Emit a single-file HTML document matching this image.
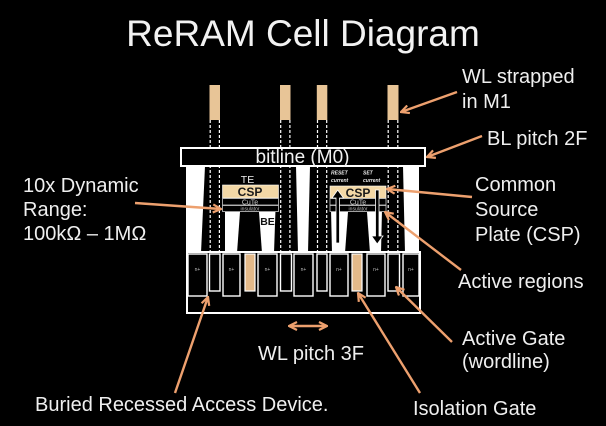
<!DOCTYPE html>
<html>
<head>
<meta charset="utf-8">
<style>
  html,body{margin:0;padding:0;background:#000;}
  svg{display:block;}
  text{font-family:"Liberation Sans", Arial, sans-serif;}
</style>
</head>
<body>
<svg width="606" height="426" viewBox="0 0 606 426" xmlns="http://www.w3.org/2000/svg">
  <defs>
    <marker id="ah" viewBox="0 0 10 10" refX="9" refY="5" markerWidth="10" markerHeight="10" markerUnits="userSpaceOnUse" orient="auto-start-reverse">
      <path d="M1,1 L9,5 L1,9" fill="none" stroke="#eda06e" stroke-width="2.2"/>
    </marker>
  </defs>
  <rect width="606" height="426" fill="#000"/>

  <!-- Title -->
  <text x="303" y="46" font-size="37" text-anchor="middle" fill="#f2f2f2">ReRAM Cell Diagram</text>

  <!-- WL strap bars (M1) -->
  <rect x="209.5" y="85" width="10.5" height="35" fill="#e8c597"/>
  <rect x="280" y="85" width="10.5" height="35" fill="#e8c597"/>
  <rect x="316.8" y="85" width="10.5" height="35" fill="#e8c597"/>
  <rect x="387.5" y="85" width="11" height="35" fill="#e8c597"/>

  <!-- Upper white structure -->
  <rect x="186" y="166" width="233" height="87" fill="#ffffff"/>
  <!-- pillars -->
  <polygon points="205,166 225,166 225,253 201,253" fill="#000"/>
  <polygon points="277,166 296,166 298,253 274,253" fill="#000"/>
  <polygon points="310,166 330,166 332,253 308,253" fill="#000"/>
  <polygon points="383,166 403,166 405,253 381,253" fill="#000"/>
  <!-- cell blocks -->
  <rect x="222" y="166" width="57" height="46" fill="#000"/>
  <rect x="327" y="166" width="60" height="46" fill="#000"/>
  <!-- BE trapezoids -->
  <polygon points="240,212 259,212 262,253 237,253" fill="#000"/>
  <polygon points="348,212 367,212 370,253 345,253" fill="#000"/>

  <!-- dashed via lines -->
  <g stroke="#ffffff" stroke-width="1.2" stroke-dasharray="3 2" fill="none">
    <line x1="210.2" y1="120" x2="210.2" y2="252"/>
    <line x1="219.4" y1="120" x2="219.4" y2="252"/>
    <line x1="280.7" y1="120" x2="280.7" y2="252"/>
    <line x1="289.9" y1="120" x2="289.9" y2="252"/>
    <line x1="317.5" y1="120" x2="317.5" y2="252"/>
    <line x1="326.7" y1="120" x2="326.7" y2="252"/>
    <line x1="388.2" y1="120" x2="388.2" y2="252"/>
    <line x1="397.8" y1="120" x2="397.8" y2="252"/>
  </g>

  <!-- bitline -->
  <rect x="181" y="148" width="244" height="18" fill="#000" stroke="#ffffff" stroke-width="2"/>
  <text x="302.5" y="163" font-size="19" text-anchor="middle" fill="#f2f2f2">bitline (M0)</text>

  <!-- Left cell details -->
  <text x="247.5" y="183" font-size="10.5" text-anchor="middle" fill="#eeeeee">TE</text>
  <rect x="222.5" y="185" width="56" height="13" fill="#f3d8a6" stroke="#ffffff" stroke-width="0.6"/>
  <text x="250" y="196" font-size="12" font-weight="bold" text-anchor="middle" fill="#1a1a1a">CSP</text>
  <rect x="222.5" y="198.5" width="56" height="6.5" fill="#000" stroke="#c8c8c8" stroke-width="0.8"/>
  <text x="250" y="204.3" font-size="7" text-anchor="middle" fill="#cfcfcf">CuTe</text>
  <rect x="222.5" y="205.5" width="56" height="6" fill="#000" stroke="#c8c8c8" stroke-width="0.8"/>
  <text x="250" y="210.6" font-size="5" text-anchor="middle" fill="#bdbdbd">insulator</text>
  <text x="267.5" y="225" font-size="10.5" font-weight="bold" text-anchor="middle" fill="#111">BE</text>

  <!-- Right cell details -->
  <text x="331" y="174.5" font-size="5" font-style="italic" font-weight="bold" fill="#e8e8e8">RESET</text>
  <text x="331" y="182" font-size="5" font-style="italic" font-weight="bold" fill="#e8e8e8">current</text>
  <text x="363" y="174.5" font-size="5" font-style="italic" font-weight="bold" fill="#e8e8e8">SET</text>
  <text x="363" y="182" font-size="5" font-style="italic" font-weight="bold" fill="#e8e8e8">current</text>
  <rect x="330" y="186" width="56" height="12.5" fill="#f3d8a6" stroke="#ffffff" stroke-width="0.6"/>
  <text x="358" y="197" font-size="12" font-weight="bold" text-anchor="middle" fill="#1a1a1a">CSP</text>
  <rect x="330" y="198.5" width="56" height="6.5" fill="#000" stroke="#c8c8c8" stroke-width="0.8"/>
  <text x="358" y="204.3" font-size="7" text-anchor="middle" fill="#cfcfcf">CuTe</text>
  <rect x="330" y="205.5" width="56" height="6" fill="#000" stroke="#c8c8c8" stroke-width="0.8"/>
  <text x="358" y="210.6" font-size="5" text-anchor="middle" fill="#bdbdbd">insulator</text>
  <!-- RESET up arrow -->
  <polygon points="336,243 339.5,243 339.5,198 343.5,198 337.7,190 332,198 336,198" fill="#000" stroke="#ffffff" stroke-width="0.8"/>
  <!-- SET down arrow -->
  <polygon points="375.5,190 379,190 379,236 383,236 377.2,244 371.5,236 375.5,236" fill="#000" stroke="#ffffff" stroke-width="0.8"/>

  <!-- Bottom device box -->
  <rect x="187" y="252" width="233" height="61" fill="#000" stroke="#ffffff" stroke-width="2"/>
  <g fill="#000" stroke="#ffffff" stroke-width="1.4">
    <rect x="188" y="254" width="19" height="42"/>
    <rect x="223" y="254" width="17" height="42"/>
    <rect x="258" y="254" width="19" height="42"/>
    <rect x="294" y="254" width="19" height="42"/>
    <rect x="330" y="254" width="18" height="42"/>
    <rect x="367" y="254" width="18" height="42"/>
    <rect x="403" y="254" width="16" height="42"/>
    <rect x="209.5" y="254" width="10.5" height="37"/>
    <rect x="280.5" y="254" width="11" height="37"/>
    <rect x="317" y="254" width="10" height="37"/>
    <rect x="388" y="254" width="11.5" height="37"/>
  </g>
  <g fill="#e3b989" stroke="#ffffff" stroke-width="1.2">
    <rect x="245" y="254" width="10" height="37"/>
    <rect x="352" y="254" width="10" height="37"/>
  </g>
  <g font-size="5" fill="#bbbbbb" text-anchor="middle">
    <text x="197.5" y="271">n+</text>
    <text x="231.5" y="271">n+</text>
    <text x="267.5" y="271">n+</text>
    <text x="303.5" y="271">n+</text>
    <text x="339" y="271">n+</text>
    <text x="376" y="271">n+</text>
    <text x="411" y="271">n+</text>
  </g>

  <!-- Orange callout arrows -->
  <g stroke="#eda06e" stroke-width="2.4" fill="none" marker-end="url(#ah)">
    <line x1="457" y1="92" x2="401" y2="112"/>
    <line x1="482" y1="136" x2="427" y2="157"/>
    <line x1="472" y1="197" x2="387" y2="189"/>
    <line x1="461" y1="270" x2="385" y2="212"/>
    <line x1="452" y1="342" x2="396" y2="287"/>
    <line x1="420" y1="393" x2="358" y2="293"/>
    <line x1="175" y1="393" x2="208" y2="297"/>
    <line x1="135" y1="203" x2="221" y2="209"/>
  </g>
  <line x1="289" y1="326" x2="327" y2="326" stroke="#eda06e" stroke-width="2.4" marker-start="url(#ah)" marker-end="url(#ah)"/>

  <!-- Labels -->
  <g font-size="20" fill="#efefef">
    <text x="462" y="83">WL strapped</text>
    <text x="462" y="108">in M1</text>
    <text x="487" y="145">BL pitch 2F</text>
    <text x="475" y="191">Common</text>
    <text x="475" y="216">Source</text>
    <text x="475" y="241">Plate (CSP)</text>
    <text x="458" y="288">Active regions</text>
    <text x="462" y="345">Active Gate</text>
    <text x="462" y="368">(wordline)</text>
    <text x="413" y="415">Isolation Gate</text>
    <text x="258" y="360">WL pitch 3F</text>
    <text x="35" y="411">Buried Recessed Access Device.</text>
    <text x="23" y="192">10x Dynamic</text>
    <text x="23" y="216">Range:</text>
    <text x="23" y="240">100kΩ – 1MΩ</text>
  </g>
</svg>
</body>
</html>
